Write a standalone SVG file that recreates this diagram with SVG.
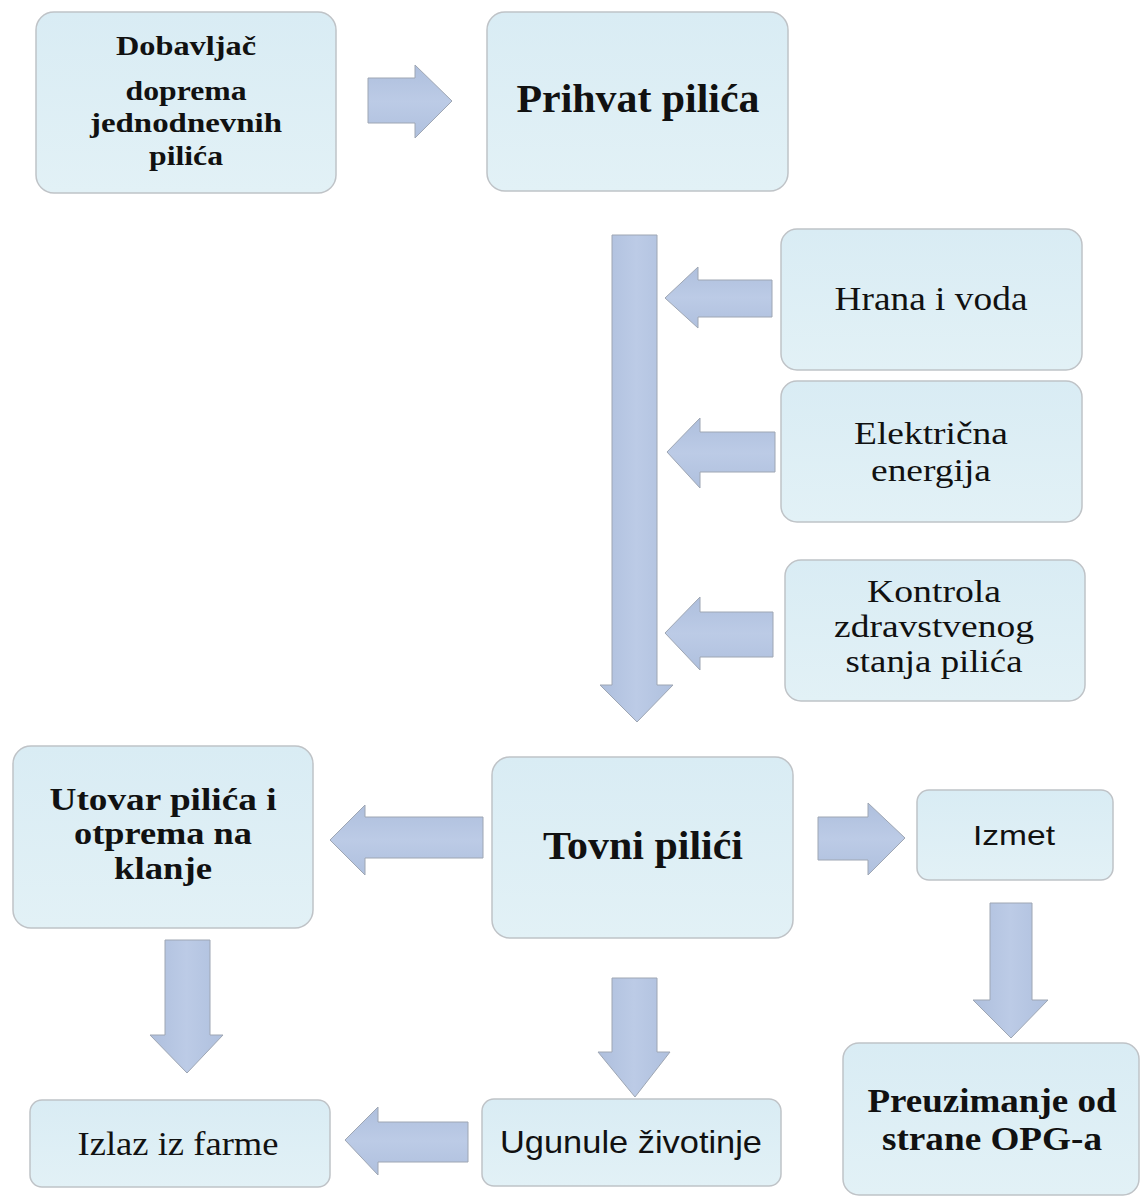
<svg xmlns="http://www.w3.org/2000/svg" width="1140" height="1197" viewBox="0 0 1140 1197">
<defs>
<linearGradient id="boxg" x1="0" y1="0" x2="0" y2="1">
<stop offset="0" stop-color="#d9ecf4"/>
<stop offset="1" stop-color="#e2f1f6"/>
</linearGradient>
<linearGradient id="arrh" x1="0" y1="0" x2="0" y2="1">
<stop offset="0" stop-color="#aebfdd"/>
<stop offset="0.5" stop-color="#bccbe6"/>
<stop offset="1" stop-color="#afc0de"/>
</linearGradient>
<linearGradient id="arrv" x1="0" y1="0" x2="1" y2="0">
<stop offset="0" stop-color="#aebfdd"/>
<stop offset="0.5" stop-color="#bccbe6"/>
<stop offset="1" stop-color="#afc0de"/>
</linearGradient>
</defs>
<style>
.box{fill:url(#boxg);stroke:#bfc3c7;stroke-width:1.5}
.ah{fill:url(#arrh);stroke:#9ea6b3;stroke-width:1}
.av{fill:url(#arrv);stroke:#9ea6b3;stroke-width:1}
.b{font-family:"Liberation Serif","Times New Roman",serif;font-weight:bold;fill:#111;text-anchor:middle}
.r{font-family:"Liberation Serif","Times New Roman",serif;fill:#111;text-anchor:middle}
.s{font-family:"Liberation Sans",Arial,sans-serif;fill:#111;text-anchor:middle}
</style>
<rect width="1140" height="1197" fill="#ffffff"/>
<g id="connectors">
<path class="ah" d="M368,78 H415 V65 L452,101 L415,138 V123 H368 Z"/>
<path class="av" d="M612,235 H657 V685 H673 L637,722 L600,685 H612 Z"/>
<path class="ah" d="M772,280 H698 V267 L665,298 L698,328 V317 H772 Z"/>
<path class="ah" d="M775,432 H700 V418 L667,452 L700,488 V472 H775 Z"/>
<path class="ah" d="M773,612 H700 V597 L665,633 L700,670 V657 H773 Z"/>
<path class="ah" d="M483,817 H365 V805 L330,840 L365,875 V858 H483 Z"/>
<path class="ah" d="M818,817 H868 V803 L905,838 L868,875 V860 H818 Z"/>
<path class="av" d="M990,903 H1032 V1000 H1048 L1011,1038 L973,1000 H990 Z"/>
<path class="av" d="M612,978 H657 V1052 H670 L635,1097 L598,1052 H612 Z"/>
<path class="av" d="M165,940 H210 V1035 H223 L187,1073 L150,1035 H165 Z"/>
<path class="ah" d="M468,1122 H378 V1107 L345,1140 L378,1175 V1162 H468 Z"/>
</g>
<g id="n-dobavljac">
<rect class="box" x="36" y="12" width="300" height="181" rx="18"/>
<text class="b" x="186" y="55" font-size="28" textLength="140" lengthAdjust="spacingAndGlyphs">Dobavljač</text>
<text class="b" x="186" y="100" font-size="28" textLength="121" lengthAdjust="spacingAndGlyphs">doprema</text>
<text class="b" x="186" y="132" font-size="28" textLength="192" lengthAdjust="spacingAndGlyphs">jednodnevnih</text>
<text class="b" x="186" y="165" font-size="28" textLength="74" lengthAdjust="spacingAndGlyphs">pilića</text>
</g>
<g id="n-prihvat">
<rect class="box" x="487" y="12" width="301" height="179" rx="18"/>
<text class="b" x="638" y="112" font-size="40" textLength="243" lengthAdjust="spacingAndGlyphs">Prihvat pilića</text>
</g>
<g id="n-hrana">
<rect class="box" x="781" y="229" width="301" height="141" rx="16"/>
<text class="r" x="931" y="310" font-size="34" textLength="193" lengthAdjust="spacingAndGlyphs">Hrana i voda</text>
</g>
<g id="n-elektricna">
<rect class="box" x="781" y="381" width="301" height="141" rx="16"/>
<text class="r" x="931" y="444" font-size="32" textLength="154" lengthAdjust="spacingAndGlyphs">Električna</text>
<text class="r" x="931" y="481" font-size="32" textLength="120" lengthAdjust="spacingAndGlyphs">energija</text>
</g>
<g id="n-kontrola">
<rect class="box" x="785" y="560" width="300" height="141" rx="16"/>
<text class="r" x="934" y="602" font-size="31" textLength="134" lengthAdjust="spacingAndGlyphs">Kontrola</text>
<text class="r" x="934" y="637" font-size="31" textLength="200" lengthAdjust="spacingAndGlyphs">zdravstvenog</text>
<text class="r" x="934" y="672" font-size="31" textLength="177" lengthAdjust="spacingAndGlyphs">stanja pilića</text>
</g>
<g id="n-utovar">
<rect class="box" x="13" y="746" width="300" height="182" rx="18"/>
<text class="b" x="163" y="810" font-size="31" textLength="227" lengthAdjust="spacingAndGlyphs">Utovar pilića i</text>
<text class="b" x="163" y="844" font-size="31" textLength="178" lengthAdjust="spacingAndGlyphs">otprema na</text>
<text class="b" x="163" y="879" font-size="31" textLength="98" lengthAdjust="spacingAndGlyphs">klanje</text>
</g>
<g id="n-tovni">
<rect class="box" x="492" y="757" width="301" height="181" rx="18"/>
<text class="b" x="643" y="859" font-size="40" textLength="200" lengthAdjust="spacingAndGlyphs">Tovni pilići</text>
</g>
<g id="n-izmet">
<rect class="box" x="917" y="790" width="196" height="90" rx="12"/>
<text class="s" x="1014" y="845" font-size="28" textLength="82" lengthAdjust="spacingAndGlyphs">Izmet</text>
</g>
<g id="n-preuzimanje">
<rect class="box" x="843" y="1043" width="296" height="152" rx="16"/>
<text class="b" x="992" y="1112" font-size="33" textLength="249" lengthAdjust="spacingAndGlyphs">Preuzimanje od</text>
<text class="b" x="992" y="1150" font-size="33" textLength="220" lengthAdjust="spacingAndGlyphs">strane OPG-a</text>
</g>
<g id="n-izlaz">
<rect class="box" x="30" y="1100" width="300" height="87" rx="12"/>
<text class="r" x="178" y="1155" font-size="34" textLength="201" lengthAdjust="spacingAndGlyphs">Izlaz iz farme</text>
</g>
<g id="n-ugunule">
<rect class="box" x="482" y="1099" width="299" height="87" rx="12"/>
<text class="s" x="631" y="1153" font-size="32" textLength="262" lengthAdjust="spacingAndGlyphs">Ugunule životinje</text>
</g>
</svg>
